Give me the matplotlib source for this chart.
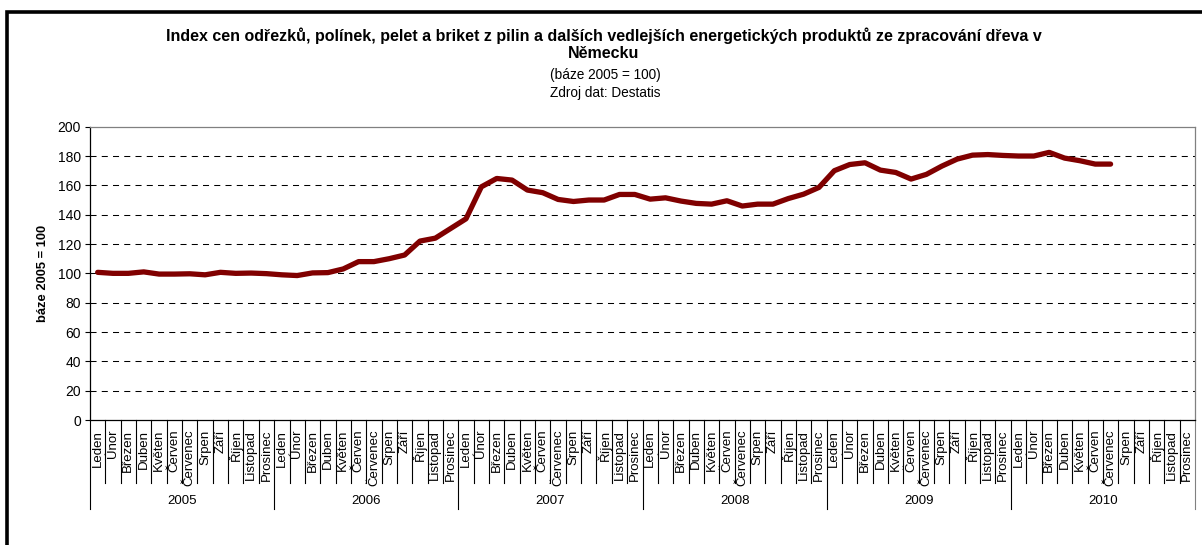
import numpy as np
import matplotlib
matplotlib.use('Agg')
import matplotlib.pyplot as plt
from matplotlib.patches import Rectangle

plt.rcParams['font.family'] = ['Liberation Sans', 'DejaVu Sans']

# Index (báze 2005 = 100), měsíčně od ledna 2005 do července 2010
years = ['2005', '2006', '2007', '2008', '2009', '2010']
months = ['Leden', 'Únor', 'Březen', 'Duben', 'Květen', 'Červen',
          'Červenec', 'Srpen', 'Září', 'Říjen', 'Listopad', 'Prosinec']
index_2005 = [100.7, 100.0, 100.0, 101.0, 99.5, 99.5, 99.7, 99.0, 100.7, 100.0, 100.2, 99.8]
index_2006 = [99.0, 98.5, 100.3, 100.5, 103.0, 108.0, 108.0, 110.0, 112.5, 122.0, 124.0, 130.6]
index_2007 = [137.2, 159.0, 164.7, 163.6, 156.8, 155.0, 150.4, 149.0, 150.0, 150.0, 153.8, 153.8]
index_2008 = [150.6, 151.5, 149.3, 147.7, 147.2, 149.5, 145.9, 147.2, 147.2, 151.0, 154.0, 158.6]
index_2009 = [170.0, 174.2, 175.4, 170.4, 168.8, 164.3, 167.5, 173.1, 177.9, 180.6, 181.0, 180.4]
index_2010 = [180.0, 180.0, 182.5, 178.6, 176.8, 174.5, 174.5]

values = index_2005 + index_2006 + index_2007 + index_2008 + index_2009 + index_2010
n_months = len(years) * len(months)

W, H = 1202, 545
fig = plt.figure(figsize=(W / 100, H / 100), dpi=100)

# vnější rámeček
fig.patches.append(Rectangle((6.5 / W, -0.1), 1.2, 1.1 - 11.5 / H,
                             transform=fig.transFigure, fill=False,
                             edgecolor='black', linewidth=2.6))

ax = fig.add_axes([90 / W, (H - 420) / H, (1195 - 90) / W, (420 - 126.7) / H])

ax.plot(range(len(values)), values, color='#800000', linewidth=3.8,
        solid_joinstyle='round', solid_capstyle='round', zorder=3)

ax.set_xlim(-0.5, n_months - 0.5)
ax.set_ylim(0, 200)
ax.set_yticks(range(0, 201, 20))
for v in range(20, 200, 20):
    ax.axhline(v, color='black', linewidth=0.75, linestyle=(0, (5.8, 5.0)), zorder=1)

ax.spines['top'].set_color('#808080')
ax.spines['right'].set_color('#808080')
ax.spines['left'].set_color('black')
ax.spines['bottom'].set_color('black')
for s in ax.spines.values():
    s.set_linewidth(0.9)

ax.tick_params(axis='y', direction='out', length=3.5, width=0.8, pad=3, labelsize=10)
ax.set_ylabel('báze 2005 = 100', fontsize=9.3, fontweight='bold', labelpad=6)

ax.set_xticks(range(n_months))
ax.set_xticklabels(months * len(years), rotation=90, fontsize=9.5, va='top')
ax.tick_params(axis='x', length=0, pad=7)

trans = ax.get_xaxis_transform()
ax_h = 420 - 126.7
for k in range(n_months + 1):
    x = k - 0.5
    if k % 12 == 0:
        y_end = -(509 - 420) / ax_h
        col = '#808080' if k == n_months else 'black'
    else:
        y_end = -(483 - 420) / ax_h
        col = 'black'
    ax.plot([x, x], [0, y_end], transform=trans, color=col, linewidth=0.8,
            clip_on=False)

for i, y in enumerate(years):
    ax.text(i * 12 + 5.5, -(501 - 420) / ax_h, y, transform=trans,
            ha='center', va='center', fontsize=9.5)

fig.text(604 / W, 1 - 36 / H,
         'Index cen odřezků, polínek, pelet a briket z pilin a dalších vedlejších energetických produktů ze zpracování dřeva v',
         ha='center', va='center', fontsize=11.5, fontweight='bold')
fig.text(604 / W, 1 - 54 / H, 'Německu', ha='center', va='center',
         fontsize=11.5, fontweight='bold')
fig.text(605 / W, 1 - 75 / H, '(báze 2005 = 100)', ha='center', va='center', fontsize=9.8)
fig.text(605 / W, 1 - 93 / H, 'Zdroj dat: Destatis', ha='center', va='center', fontsize=9.8)

fig.savefig('out.png', dpi=100)
